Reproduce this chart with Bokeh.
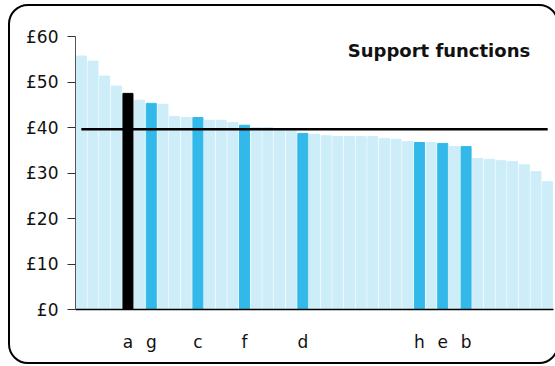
from bokeh.plotting import figure
from bokeh.models import ColumnDataSource, FixedTicker, Label, Range1d, InlineStyleSheet
from bokeh.embed import file_html
from bokeh.resources import INLINE

# ---- data ----
values = [55.7, 54.6, 51.3, 49.1, 47.5, 46.0, 45.3, 45.1, 42.4, 42.2,
          42.2, 41.6, 41.6, 41.1, 40.5, 40.0, 40.0, 39.7, 39.4, 38.7,
          38.5, 38.2, 38.0, 38.0, 38.0, 38.0, 37.6, 37.4, 36.9, 36.7,
          36.7, 36.5, 35.8, 35.8, 33.2, 33.0, 32.7, 32.5, 31.8, 30.3, 28.1]
bar_labels = ["", "", "", "", "a", "", "g", "", "", "",
              "c", "", "", "", "f", "", "", "", "", "d",
              "", "", "", "", "", "", "", "", "", "h",
              "", "e", "", "b", "", "", "", "", "", "", ""]
selected = "a"
average = 39.6
y_ticks = [0, 10, 20, 30, 40, 50, 60]
y_tick_labels = ["£0", "£10", "£20", "£30", "£40", "£50", "£60"]
title_text = "Support functions"

LIGHT = "#cdedf9"
BLUE = "#33b9e9"
BLACK = "#000000"

positions = list(range(1, len(values) + 1))
colors = []
for lab in bar_labels:
    if lab == selected:
        colors.append(BLACK)
    elif lab:
        colors.append(BLUE)
    else:
        colors.append(LIGHT)

src = ColumnDataSource(dict(x=positions, top=values, color=colors))

FONT = "DejaVu Sans"

p = figure(width=555, height=366, output_backend="svg", toolbar_location=None,
           x_range=Range1d(0.5, len(values) + 0.5), y_range=Range1d(0, 60),
           min_border_left=75, min_border_right=2, min_border_top=36,
           min_border_bottom=57)
p.outline_line_color = None
p.grid.visible = False
p.background_fill_color = "white"
p.border_fill_color = "white"

p.vbar(x="x", top="top", width=0.86, color="color", source=src)

p.segment(x0=[positions[0]], x1=[positions[-1]], y0=[average], y1=[average],
          line_color="black", line_width=2.6)

# y axis
ya = p.yaxis[0]
ya.ticker = FixedTicker(ticks=y_ticks)
ya.major_label_overrides = {t: l for t, l in zip(y_ticks, y_tick_labels)}
ya.minor_tick_line_color = None
ya.major_tick_in = 0
ya.major_tick_out = 8
ya.major_tick_line_color = "#333333"
ya.axis_line_color = "#555555"
ya.major_label_standoff = 9
ya.major_label_text_font = FONT
ya.major_label_text_font_size = "17px"
ya.major_label_text_color = "#111111"

# x axis
xa = p.xaxis[0]
lab_pos = [pos for pos, lab in zip(positions, bar_labels) if lab]
xa.ticker = FixedTicker(ticks=lab_pos)
xa.major_label_overrides = {pos: lab for pos, lab in zip(positions, bar_labels) if lab}
xa.minor_tick_line_color = None
xa.major_tick_line_color = None
xa.major_tick_in = 0
xa.major_tick_out = 0
xa.axis_line_color = "black"
xa.axis_line_width = 1.5
xa.major_label_standoff = 22
xa.major_label_text_font = FONT
xa.major_label_text_font_size = "17px"
xa.major_label_text_color = "#111111"

p.add_layout(Label(x=39.5, y=57.0, text=title_text, text_align="right",
                   text_baseline="alphabetic", text_font=FONT,
                   text_font_size="18px", text_font_style="bold",
                   text_color="#111111"))

# rounded outer frame around the chart (right edge runs just past the window)
frame_css = InlineStyleSheet(css="""
:host { overflow: hidden; }
:host::after {
  content: "";
  position: absolute;
  left: 8px;
  top: 4px;
  width: 551px !important;
  max-width: none !important;
  right: auto !important;
  height: 360px;
  border: 2px solid #000;
  border-radius: 20px;
  box-sizing: border-box;
  pointer-events: none;
  z-index: 10;
}
""")
p.stylesheets = [frame_css]

open("out.html", "w").write(file_html(p, INLINE))
